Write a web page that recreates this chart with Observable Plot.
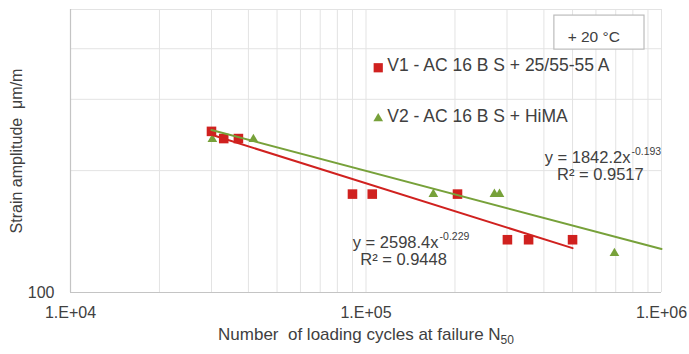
<!DOCTYPE html>
<html>
<head>
<meta charset="utf-8">
<script src="https://cdn.jsdelivr.net/npm/d3@7"></script>
<script src="https://cdn.jsdelivr.net/npm/@observablehq/plot@0.6"></script>
<style>
  html, body { margin: 0; padding: 0; background: #fff; }
  #chart svg { display: block; }
</style>
</head>
<body>
<div id="chart"></div>
<script>
// Data
const v1Cycles = [30000, 33000, 37000, 90000, 105000, 204000, 301000, 355000, 500000];
const v1Strain = [250, 240, 240, 175, 175, 175, 135, 135, 135];
const v2Cycles = [30200, 41600, 169000, 272000, 283000, 693000];
const v2Strain = [239, 239, 175, 175, 175, 125];

// Trendline equations (as printed): y = a * x^b, drawn over the shown ranges
const fitNames = ["V1", "V2"];
const fitA = [2598.4, 1842.2];
const fitB = [-0.229, -0.193];
const fitR2 = ["0.9448", "0.9517"];
const fitRange = [[30000, 500000], [30000, 1000000]];

const seriesLabels = ["V1 - AC 16 B S + 25/55-55 A", "V2 - AC 16 B S + HiMA"];
const xTicks = [1e4, 1e5, 1e6];
const yTicks = [100];
const tempLabel = "+ 20 °C";
const xLabel = "Number  of loading cycles at failure N";
const xLabelSub = "50";
const yLabel = "Strain amplitude  μm/m";

const red = "#d0211f";
const green = "#77a13a";
const textColor = "#404040";
const font = "'Liberation Sans', Arial, sans-serif";

const v1 = v1Cycles.map((n, i) => ({n, s: v1Strain[i]}));
const v2 = v2Cycles.map((n, i) => ({n, s: v2Strain[i]}));
const fitLines = fitNames.flatMap((name, i) =>
  fitRange[i].map(n => ({name, n, s: fitA[i] * Math.pow(n, fitB[i])})));

const xGrid = d3.range(4, 6).flatMap(e => d3.range(1, 10).map(k => k * Math.pow(10, e))).concat([1e6]);
const yGrid = [100, 200, 300, 400, 500];

const fmtE = d => "1.E+" + String(Math.round(Math.log10(d))).padStart(2, "0");

const chart = Plot.plot({
  width: 689,
  height: 354,
  marginLeft: 70,
  marginRight: 28,
  marginTop: 9,
  marginBottom: 62,
  style: {fontFamily: font, fontSize: "16px", color: textColor, background: "#fff"},
  x: {type: "log", domain: [1e4, 1e6], ticks: xTicks, tickFormat: fmtE, tickSize: 0, tickPadding: 14,
      label: xLabel + xLabelSub, labelArrow: "none", labelAnchor: "center", labelOffset: 47},
  y: {type: "log", domain: [100, 500], ticks: yTicks, tickFormat: d => String(d), tickSize: 0, tickPadding: 16,
      label: yLabel, labelArrow: "none", labelAnchor: "center", labelOffset: 60},
  marks: [
    Plot.gridX(xGrid, {stroke: "#e3e3e3", strokeOpacity: 1}),
    Plot.gridY(yGrid, {stroke: "#e3e3e3", strokeOpacity: 1}),
    Plot.ruleX([1e4], {stroke: "#c4c4c4", strokeWidth: 1.2}),
    Plot.ruleY([100], {stroke: "#c4c4c4", strokeWidth: 1.2}),
    // temperature box
    Plot.rect([{x1: 434000, x2: 876000, y1: 398, y2: 483}], {x1: "x1", x2: "x2", y1: "y1", y2: "y2", fill: "#fff", stroke: "#bcbcbc", strokeWidth: 1.2}),
    Plot.text([tempLabel], {x: 590000, y: 428, text: d => d, fontSize: 15.5, fill: textColor}),
    // data
    Plot.dot(v1, {x: "n", y: "s", symbol: "square", r: 5.4, fill: red, stroke: "none"}),
    Plot.dot(v2, {x: "n", y: "s", symbol: "triangle", r: 3.6, fill: green, stroke: "none"}),
    Plot.line(fitLines, {x: "n", y: "s", z: "name", stroke: d => d.name === "V1" ? red : green, strokeWidth: 2}),
    // legend
    Plot.dot([0], {x: 110000, y: 359, symbol: "square", r: 5.2, fill: red}),
    Plot.dot([0], {x: 110000, y: 269, symbol: "triangle", r: 3.6, fill: green}),
    Plot.text([seriesLabels[0]], {x: 118000, y: 363, text: d => d, textAnchor: "start", fontSize: 17.5, fill: textColor}),
    Plot.text([seriesLabels[1]], {x: 118000, y: 273, text: d => d, textAnchor: "start", fontSize: 17.5, fill: textColor}),
    // equations
    Plot.text(["y = " + fitA[1] + "x"], {x: 785000, y: 215, text: d => d, textAnchor: "end", fontSize: 16.5, fill: textColor}),
    Plot.text([String(fitB[1])], {x: 785000, y: 215, dy: -6, dx: 1, text: d => d, textAnchor: "start", fontSize: 10.5, fill: textColor}),
    Plot.text(["R² = " + fitR2[1]], {x: 621000, y: 195.4, text: d => d, fontSize: 16.5, fill: textColor}),
    Plot.text(["y = " + fitA[0] + "x"], {x: 176000, y: 132.5, text: d => d, textAnchor: "end", fontSize: 16.5, fill: textColor}),
    Plot.text([String(fitB[0])], {x: 176000, y: 132.5, dy: -6, dx: 1, text: d => d, textAnchor: "start", fontSize: 10.5, fill: textColor}),
    Plot.text(["R² = " + fitR2[0]], {x: 134000, y: 120.3, text: d => d, fontSize: 16.5, fill: textColor})
  ]
});
// render the subscript in the x-axis label and keep the double space
chart.querySelectorAll("text").forEach(t => {
  if (t.textContent === xLabel + xLabelSub) {
    t.textContent = "";
    t.style.whiteSpace = "pre";
    t.setAttribute("font-size", "17");
    const a = document.createElementNS("http://www.w3.org/2000/svg", "tspan");
    a.textContent = xLabel;
    const b = document.createElementNS("http://www.w3.org/2000/svg", "tspan");
    b.textContent = xLabelSub;
    b.setAttribute("font-size", "12");
    b.setAttribute("dy", "4");
    t.appendChild(a);
    t.appendChild(b);
  }
});
document.getElementById("chart").appendChild(chart);
</script>
</body>
</html>
